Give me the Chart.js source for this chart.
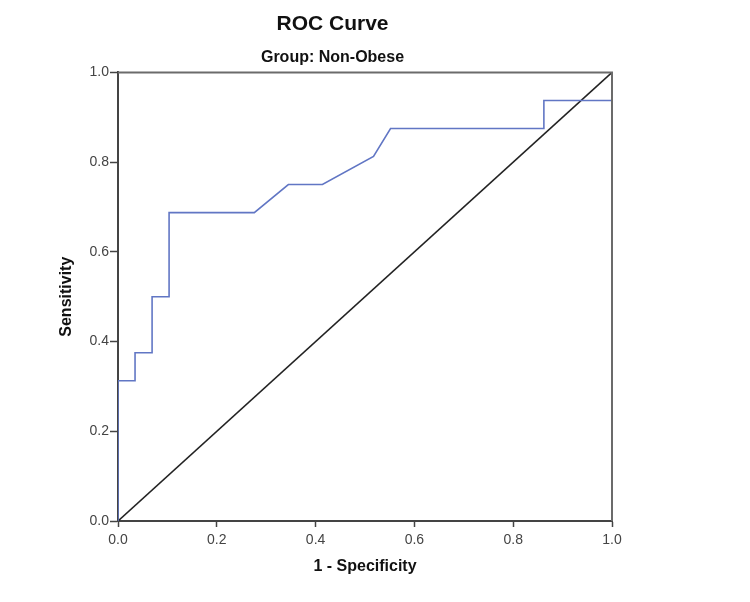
<!DOCTYPE html>
<html>
<head>
<meta charset="utf-8">
<script src="https://cdn.jsdelivr.net/npm/chart.js@4.4.1/dist/chart.umd.min.js"></script>
<style>
  html, body { margin: 0; padding: 0; background: #fff; }
  #wrap { width: 750px; height: 602px; }
</style>
</head>
<body>
<div id="wrap"><canvas id="roc"></canvas></div>
<script>
// ROC curve steps (1 - specificity, sensitivity)
var fpr = [0, 0, 0.0345, 0.0345, 0.069, 0.069, 0.1034, 0.1034, 0.2759, 0.3448, 0.4138, 0.5172, 0.5517, 0.8621, 0.8621, 1, 1];
var tpr = [0, 0.3125, 0.3125, 0.375, 0.375, 0.5, 0.5, 0.6875, 0.6875, 0.75, 0.75, 0.8125, 0.875, 0.875, 0.9375, 0.9375, 1];
// reference line
var refX = [0, 1];
var refY = [0, 1];
var tickValues = [0, 0.2, 0.4, 0.6, 0.8, 1.0];

function toPoints(xs, ys) {
    return xs.map(function (x, i) { return { x: x, y: ys[i] }; });
}

// top and right edges of the plot frame
const framePlugin = {
    id: 'frame',
    afterDraw(chart) {
        const a = chart.chartArea;
        const ctx = chart.ctx;
        ctx.save();
        ctx.strokeStyle = '#6b6b6b';
        ctx.lineWidth = 2;
        ctx.beginPath();
        ctx.moveTo(a.left, a.top);
        ctx.lineTo(a.right, a.top);
        ctx.lineTo(a.right, a.bottom);
        ctx.stroke();
        ctx.restore();
    }
};

const ctx = document.getElementById('roc').getContext('2d');

new Chart(ctx, {
    type: 'scatter',
    data: {
        datasets: [
            {
                label: 'ROC',
                data: toPoints(fpr, tpr),
                showLine: true,
                borderColor: '#6176c4',
                borderWidth: 1.6,
                pointRadius: 0,
                fill: false,
                tension: 0,
            },
            {
                label: 'Reference',
                data: toPoints(refX, refY),
                showLine: true,
                borderColor: '#222222',
                borderWidth: 1.6,
                pointRadius: 0,
                fill: false,
            },
        ],
    },
    options: {
        responsive: true,
        maintainAspectRatio: false,
        animation: false,
        layout: {
            padding: { left: 53, right: 138, top: 0, bottom: 22 }
        },
        plugins: {
            legend: { display: false },
            tooltip: { enabled: false },
            title: {
                display: true,
                text: 'ROC Curve',
                color: '#111',
                font: { family: 'Liberation Sans', size: 21, weight: 'bold' },
                padding: { top: 12, bottom: 10 }
            },
            subtitle: {
                display: true,
                text: 'Group: Non-Obese',
                color: '#111',
                font: { family: 'Liberation Sans', size: 16, weight: 'bold' },
                padding: { top: 1, bottom: 5 }
            }
        },
        scales: {
            x: {
                type: 'linear',
                min: 0,
                max: 1,
                afterFit: function (scale) { scale.height = 59; },
                afterBuildTicks: function (scale) {
                    scale.ticks = tickValues.map(function (v) { return { value: v }; });
                },
                ticks: {
                    color: '#444',
                    padding: 5,
                    maxRotation: 0,
                    font: { family: 'Liberation Sans', size: 14 },
                    callback: function (v) { return v.toFixed(1); }
                },
                grid: {
                    drawOnChartArea: false,
                    drawTicks: true,
                    tickLength: 6,
                    tickColor: '#444',
                    tickWidth: 1.5
                },
                border: { color: '#444', width: 2 },
                title: {
                    display: true,
                    text: '1 - Specificity',
                    color: '#111',
                    font: { family: 'Liberation Sans', size: 16, weight: 'bold' }
                }
            },
            y: {
                type: 'linear',
                min: 0,
                max: 1,
                afterFit: function (scale) { scale.width = 65; },
                afterBuildTicks: function (scale) {
                    scale.ticks = tickValues.map(function (v) { return { value: v }; });
                },
                ticks: {
                    color: '#444',
                    padding: 1,
                    font: { family: 'Liberation Sans', size: 14 },
                    callback: function (v) { return v.toFixed(1); }
                },
                grid: {
                    drawOnChartArea: false,
                    drawTicks: true,
                    tickLength: 8,
                    tickColor: '#444',
                    tickWidth: 1.5
                },
                border: { color: '#444', width: 2 },
                title: {
                    display: true,
                    text: 'Sensitivity',
                    color: '#111',
                    font: { family: 'Liberation Sans', size: 16, weight: 'bold' }
                }
            }
        }
    },
    plugins: [framePlugin]
});
</script>
</body>
</html>
